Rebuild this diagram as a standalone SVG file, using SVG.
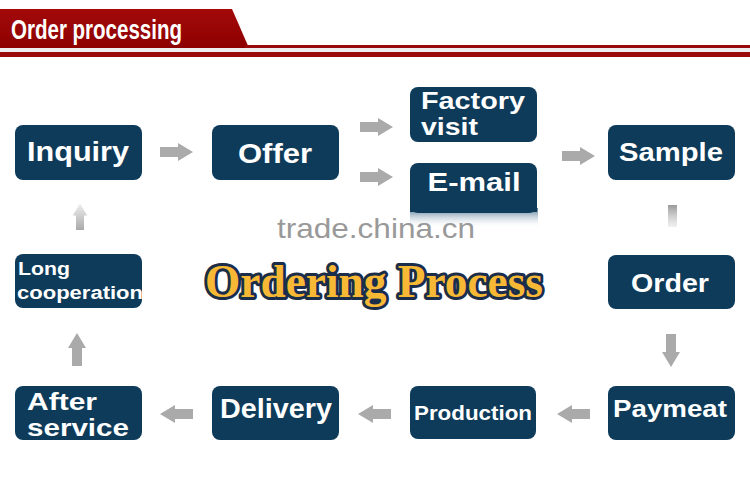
<svg xmlns="http://www.w3.org/2000/svg" width="750" height="478" viewBox="0 0 750 478">
<defs>
<style>
.node{fill:#0e3b5a}
.t{fill:#ffffff;font-family:"Liberation Sans",Arial,sans-serif;font-weight:bold}
.arr{fill:#aaaaaa}
</style>
<path id="arr" d="M0,-5 H18 V-9 L33,0 L18,9 V5 H0 Z"/>
<linearGradient id="band" x1="0" y1="0" x2="0" y2="1">
<stop offset="0" stop-color="#a30a0a"/><stop offset="1" stop-color="#8e0000"/>
</linearGradient>
<linearGradient id="refl" x1="0" y1="0" x2="0" y2="1">
<stop offset="0" stop-color="#4e7590"/><stop offset="1" stop-color="#ffffff" stop-opacity="0"/>
</linearGradient>
<linearGradient id="fadeUp" x1="0" y1="0" x2="1" y2="0">
<stop offset="0" stop-color="#aaaaaa"/><stop offset="1" stop-color="#aaaaaa" stop-opacity="0.2"/>
</linearGradient>
<linearGradient id="fadeV" x1="0" y1="0" x2="0" y2="1">
<stop offset="0" stop-color="#999999"/><stop offset="1" stop-color="#cccccc" stop-opacity="0.3"/>
</linearGradient>
</defs>
<rect width="750" height="478" fill="#ffffff"/>
<g id="header">
<polygon points="0,9 232,9 249,48 0,48" fill="url(#band)"/>
<rect x="245" y="45" width="505" height="3" fill="#9b0a0a"/>
<rect x="0" y="48" width="750" height="4" fill="#eeeeee"/>
<rect x="0" y="52" width="750" height="5" fill="#9b0a0a"/>
<text x="11" y="39" font-family="'Liberation Sans',Arial,sans-serif" font-weight="bold" font-size="27" fill="#ffffff" textLength="171" lengthAdjust="spacingAndGlyphs">Order processing</text>
</g>
<g id="connectors">
<use href="#arr" class="arr" transform="translate(160,152)"/>
<use href="#arr" class="arr" transform="translate(360,127)"/>
<use href="#arr" class="arr" transform="translate(360,177)"/>
<use href="#arr" class="arr" transform="translate(562,156)"/>
<rect x="668" y="205" width="9" height="22" fill="url(#fadeV)"/>
<use href="#arr" class="arr" transform="translate(671,334) rotate(90)"/>
<use href="#arr" class="arr" transform="translate(590,414) rotate(180)"/>
<use href="#arr" class="arr" transform="translate(391,414) rotate(180)"/>
<use href="#arr" class="arr" transform="translate(193,414) rotate(180)"/>
<use href="#arr" class="arr" transform="translate(77,366) rotate(-90)"/>
<use href="#arr" fill="url(#fadeUp)" transform="translate(80,230) rotate(-90) scale(0.8)"/>
</g>
<g id="inquiry"><rect class="node" x="15" y="125" width="127" height="55" rx="8"/>
<text class="t" x="78" y="161" font-size="28" text-anchor="middle" textLength="102" lengthAdjust="spacingAndGlyphs">Inquiry</text></g>
<g id="offer"><rect class="node" x="212" y="125" width="127" height="55" rx="8"/>
<text class="t" x="275" y="163" font-size="28" text-anchor="middle" textLength="74" lengthAdjust="spacingAndGlyphs">Offer</text></g>
<g id="factory-visit"><rect class="node" x="410" y="87" width="127" height="55" rx="8"/>
<text class="t" x="421" y="109" font-size="24" textLength="104" lengthAdjust="spacingAndGlyphs">Factory</text>
<text class="t" x="421" y="135" font-size="24" textLength="57" lengthAdjust="spacingAndGlyphs">visit</text></g>
<g id="email"><rect x="410" y="208" width="128" height="20" fill="url(#refl)"/>
<rect class="node" x="410" y="163" width="127" height="50" rx="8"/>
<rect class="node" x="410" y="195" width="127" height="17"/>
<text class="t" x="474" y="191" font-size="26" text-anchor="middle" textLength="93" lengthAdjust="spacingAndGlyphs">E-mail</text></g>
<g id="sample"><rect class="node" x="608" y="125" width="127" height="55" rx="8"/>
<text class="t" x="671" y="161" font-size="26" text-anchor="middle" textLength="104" lengthAdjust="spacingAndGlyphs">Sample</text></g>
<g id="order"><rect class="node" x="608" y="255" width="127" height="54" rx="8"/>
<text class="t" x="670" y="292" font-size="25" text-anchor="middle" textLength="78" lengthAdjust="spacingAndGlyphs">Order</text></g>
<g id="long-cooperation"><rect class="node" x="15" y="254" width="127" height="54" rx="8"/>
<text class="t" x="18" y="275" font-size="18" textLength="52" lengthAdjust="spacingAndGlyphs">Long</text>
<text class="t" x="17" y="299" font-size="18" textLength="126" lengthAdjust="spacingAndGlyphs">cooperation</text></g>
<g id="after-service"><rect class="node" x="15" y="386" width="127" height="54" rx="8"/>
<text class="t" x="27" y="410" font-size="24" textLength="70" lengthAdjust="spacingAndGlyphs">After</text>
<text class="t" x="27" y="436" font-size="24" textLength="102" lengthAdjust="spacingAndGlyphs">service</text></g>
<g id="delivery"><rect class="node" x="212" y="386" width="127" height="54" rx="8"/>
<text class="t" x="276" y="418" font-size="27" text-anchor="middle" textLength="112" lengthAdjust="spacingAndGlyphs">Delivery</text></g>
<g id="production"><rect class="node" x="410" y="386" width="126" height="53" rx="8"/>
<text class="t" x="473" y="420" font-size="20" text-anchor="middle" textLength="118" lengthAdjust="spacingAndGlyphs">Production</text></g>
<g id="paymeat"><rect class="node" x="608" y="386" width="127" height="54" rx="8"/>
<text class="t" x="670" y="417" font-size="24" text-anchor="middle" textLength="114" lengthAdjust="spacingAndGlyphs">Paymeat</text></g>
<g id="watermark">
<text x="277" y="238" font-family="'Liberation Sans',Arial,sans-serif" font-size="28" fill="#999999" textLength="198" lengthAdjust="spacingAndGlyphs">trade.china.cn</text>
</g>
<g id="title">
<text x="205" y="297" font-family="'Liberation Serif','Times New Roman',serif" font-weight="bold" font-size="47" fill="#f7b935" stroke="#1a2d4a" stroke-width="6" stroke-linejoin="round" paint-order="stroke" textLength="338" lengthAdjust="spacingAndGlyphs">Ordering Process</text>
</g>
</svg>
